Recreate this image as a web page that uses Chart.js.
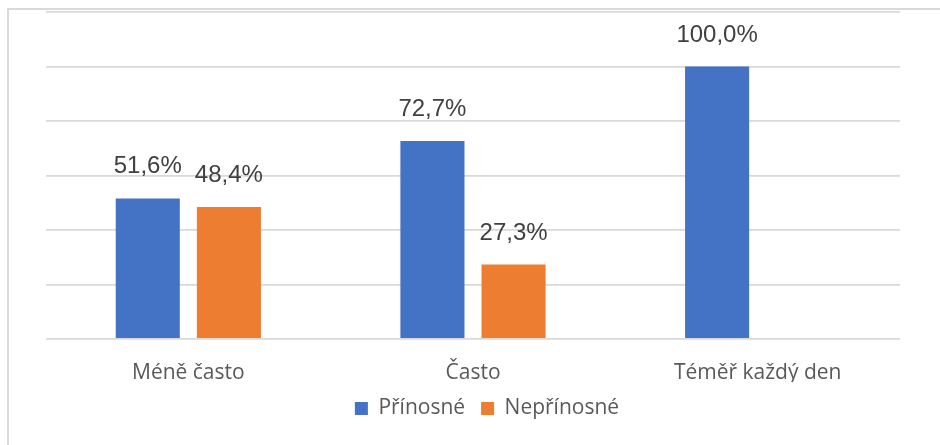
<!DOCTYPE html>
<html>
<head>
<meta charset="utf-8">
<script src="https://cdn.jsdelivr.net/npm/chart.js@4"></script>
<style>
    body { margin: 0; background: #fff; }
    #wrap { position: relative; width: 940px; height: 445px; overflow: hidden; }
    #ramecek {
        position: absolute; left: 7px; top: 8px; width: 960px; height: 460px;
        border-left: 2px solid #d9d9d9; border-top: 2px solid #d9d9d9;
    }
    #graf { position: absolute; left: 0; top: 0; }
</style>
</head>
<body>
<div id="wrap">
    <div id="ramecek"></div>
    <canvas id="graf" width="940" height="445"></canvas>
</div>
<script>
const kategorie = ['Méně často', 'Často', 'Téměř každý den'];
const prinosne = [51.6, 72.7, 100.0];
const neprinosne = [48.4, 27.3, null];

// popisky hodnot nad sloupci (datalabels plugin tu nemame)
const popiskyHodnot = {
    id: 'popiskyHodnot',
    afterDatasetsDraw(chart) {
        const ctx = chart.ctx;
        ctx.save();
        ctx.font = "24px 'Liberation Sans', Arial, sans-serif";
        ctx.fillStyle = '#404040';
        ctx.textAlign = 'center';
        ctx.textBaseline = 'alphabetic';
        chart.data.datasets.forEach(function(ds, i) {
            const meta = chart.getDatasetMeta(i);
            meta.data.forEach(function(bar, j) {
                const v = ds.data[j];
                if (v === null || v === undefined) return;
                const txt = v.toFixed(1).replace('.', ',') + '%';
                ctx.fillText(txt, bar.x, bar.y - 25);
            });
        });
        ctx.restore();
    }
};

// legenda je v originale trochu posunuta doprava
const posunLegendy = {
    id: 'posunLegendy',
    afterLayout(chart) {
        if (chart.legend) {
            chart.legend.left += 14;
            chart.legend.right += 14;
        }
    }
};

const ctx = document.getElementById('graf').getContext('2d');

new Chart(ctx, {
    type: 'bar',
    data: {
        labels: kategorie,
        datasets: [
            {
                label: 'Přínosné',
                data: prinosne,
                backgroundColor: '#4472c4',
                categoryPercentage: 0.57,
                barPercentage: 0.79
            },
            {
                label: 'Nepřínosné',
                data: neprinosne,
                backgroundColor: '#ed7d31',
                categoryPercentage: 0.57,
                barPercentage: 0.79
            }
        ]
    },
    options: {
        responsive: false,
        animation: false,
        layout: {
            padding: { left: 46, right: 40, top: 12, bottom: 16 }
        },
        plugins: {
            legend: {
                position: 'bottom',
                labels: {
                    boxWidth: 13,
                    boxHeight: 13,
                    padding: 16,
                    color: '#595959',
                    font: { family: "'Open Sans', sans-serif", size: 21 }
                }
            },
            tooltip: { enabled: false }
        },
        scales: {
            x: {
                grid: { display: false, drawTicks: false },
                border: { display: false },
                ticks: {
                    padding: 21,
                    color: '#595959',
                    font: { family: "'Open Sans', sans-serif", size: 21 }
                },
                afterFit: function(scale) {
                    scale.height = 43;
                }
            },
            y: {
                min: 0,
                max: 120,
                ticks: { display: false, stepSize: 20 },
                border: { display: false },
                grid: { color: '#d9d9d9', lineWidth: 1.8, drawTicks: false }
            }
        }
    },
    plugins: [popiskyHodnot, posunLegendy]
});
</script>
</body>
</html>
